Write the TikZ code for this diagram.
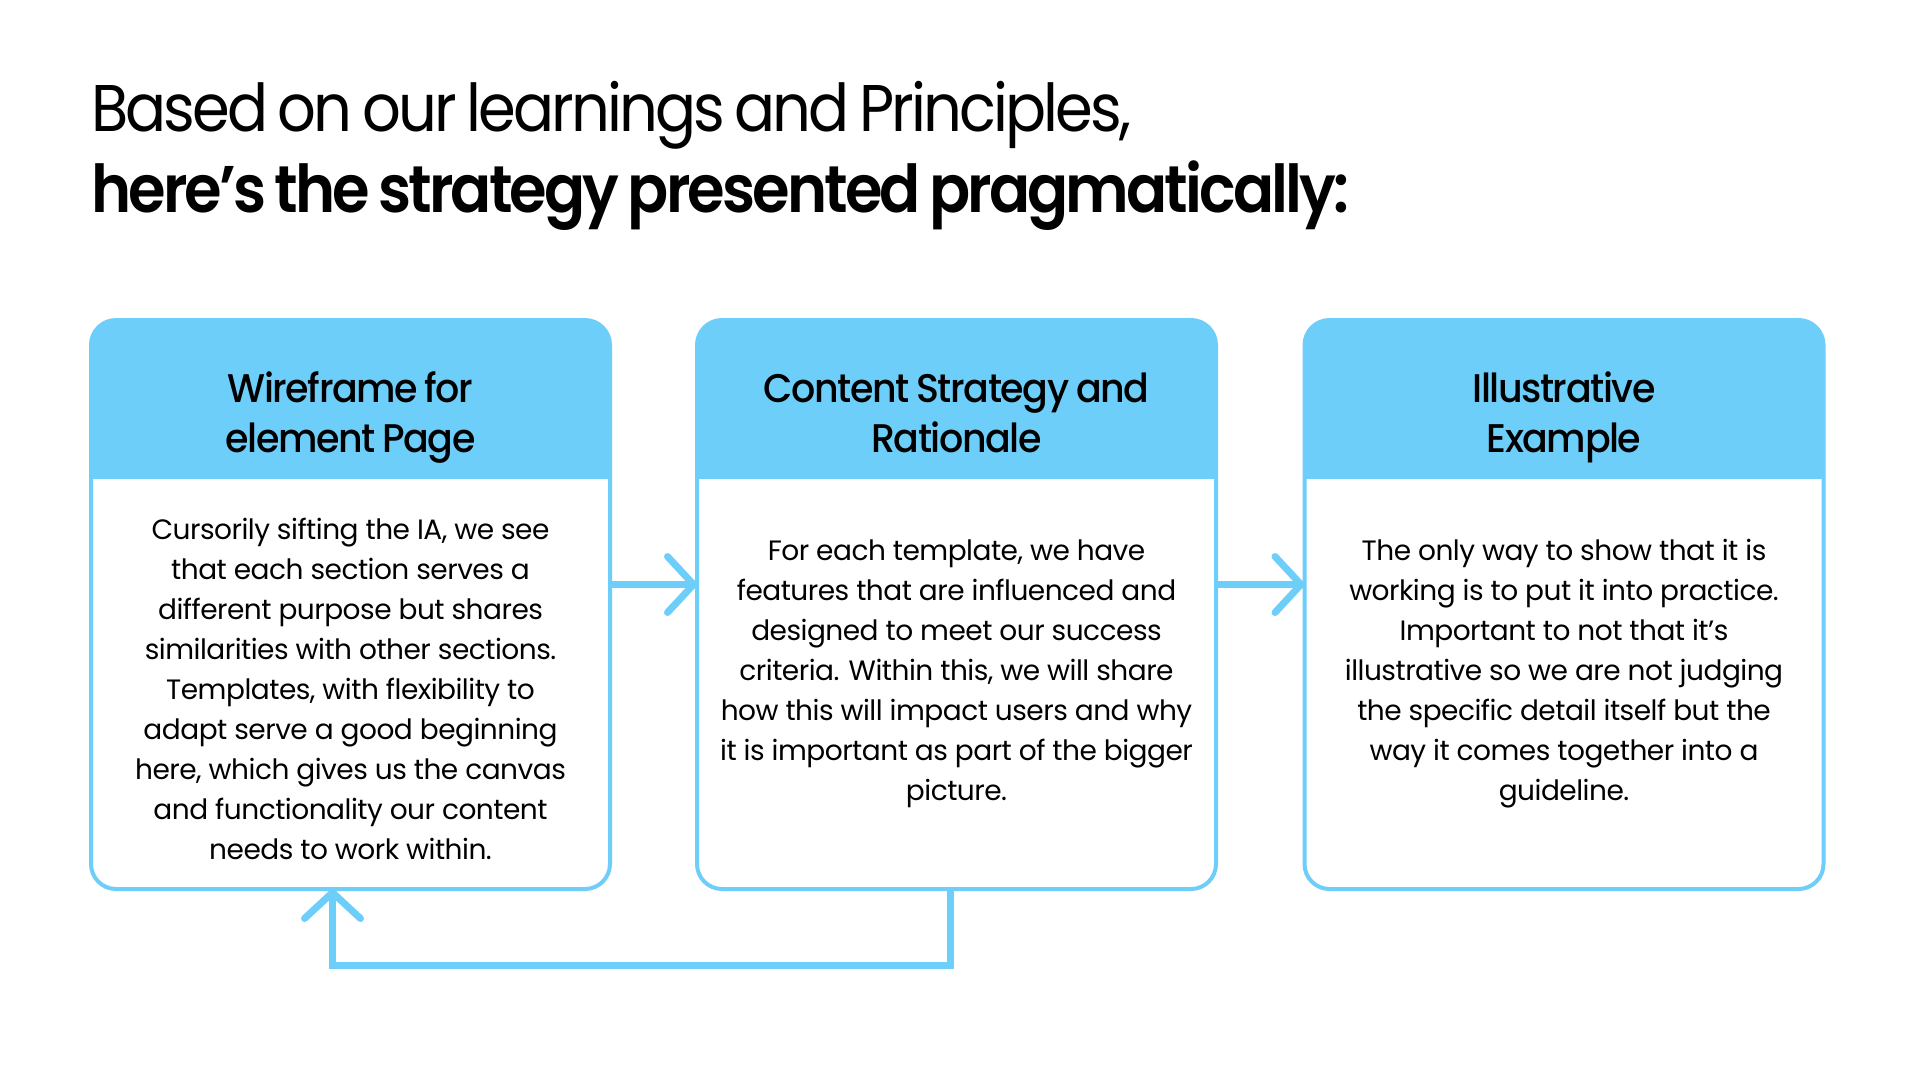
\documentclass[tikz,border=0pt]{standalone}
\usepackage{fontspec}
\setmainfont{Poppins}
\newfontfamily\titlefont{Poppins}[FakeStretch=0.92, LetterSpace=-4.3, WordSpace=0.7]
\newfontfamily\titleboldfont{Poppins SemiBold}[FakeStretch=0.92, LetterSpace=-4.3, WordSpace=0.7]
\newfontfamily\headfont{Poppins Medium}[FakeStretch=0.95, LetterSpace=-3.6, WordSpace=0.8]
\newfontfamily\bodyfont{Poppins}[LetterSpace=-1.8]
\usetikzlibrary{calc,arrows.meta}
\definecolor{sky}{RGB}{110,206,250}
\tikzset{
  card/.style={draw=none, fill=white, inner sep=0pt, outer sep=0pt, minimum width=519pt, minimum height=569pt},
  cardline/.style={draw=sky, line width=4pt, rounded corners=25pt},
  hdr/.style={fill=sky, rounded corners=25pt},
  htext/.style={align=center, anchor=base, font=\headfont\fontsize{40}{50}\selectfont, inner sep=0pt},
  btext/.style={align=center, anchor=base, font=\bodyfont\fontsize{28}{40}\selectfont, inner sep=0pt},
  flow/.style={draw=sky, line width=7pt, -{Straight Barb[length=26pt, width=56pt, round]}}
}
\begin{document}
\begin{tikzpicture}[x=1pt, y=-1pt]
\useasboundingbox (0,0) rectangle (1920,1080);
\fill[white] (0,0) rectangle (1920,1080);
% title
\node[anchor=base west, inner sep=0pt, font=\titlefont\fontsize{66}{80}\selectfont] (t1) at (91,131) {Based on our learnings and Principles,};
\node[anchor=base west, inner sep=0pt, font=\titleboldfont\fontsize{66}{80}\selectfont] (t2) at (91,212) {here’s the strategy presented pragmatically:};
% cards
\foreach \n/\cx in {b1/350.5, b2/956.5, b3/1564} {
  \node[card] (\n) at (\cx,604.5) {};
  \begin{scope}
    \clip (\n.north west) rectangle ($(\n.north east)+(0,158)$);
    \fill[hdr] (\n.north west) rectangle (\n.south east);
  \end{scope}
  \draw[cardline] (\n.south west) rectangle (\n.north east);
}
% headers (anchor = baseline of last line)
\node[htext] (h1) at (350.5,452) {Wireframe for\\element Page};
\node[htext] (h2) at (956.5,452) {Content Strategy and\\Rationale};
\node[htext] (h3) at (1564,452) {Illustrative\\Example};
% bodies (anchor = baseline of last line)
\node[btext] (p1) at (350.5,859) {Cursorily sifting the IA, we see\\that each section serves a\\different purpose but shares\\similarities with other sections.\\Templates, with flexibility to\\adapt serve a good beginning\\here, which gives us the canvas\\and functionality our content\\needs to work within.};
\node[btext] (p2) at (956.5,800) {For each template, we have\\features that are influenced and\\designed to meet our success\\criteria. Within this, we will share\\how this will impact users and why\\it is important as part of the bigger\\picture.};
\node[btext] (p3) at (1564,800) {The only way to show that it is\\working is to put it into practice.\\Important to not that it’s\\illustrative so we are not judging\\the specific detail itself but the\\way it comes together into a\\guideline.};
% connectors
\coordinate (a1s) at ($(b1.east)+(0,-20)$);
\coordinate (a1e) at ($(b2.west)+(0,-20)$);
\coordinate (a2s) at ($(b2.east)+(0,-20)$);
\coordinate (a2e) at ($(b3.west)+(0,-20)$);
\draw[flow] (a1s) -- (a1e);
\draw[flow] (a2s) -- (a2e);
\coordinate (fb1) at ($(b2.south)+(-6,0)$);
\coordinate (fb2) at ($(b1.south)+(-18,0)$);
\draw[flow, line join=miter] (fb1) -- ++(0,76) -| (fb2);
\end{tikzpicture}
\end{document}
